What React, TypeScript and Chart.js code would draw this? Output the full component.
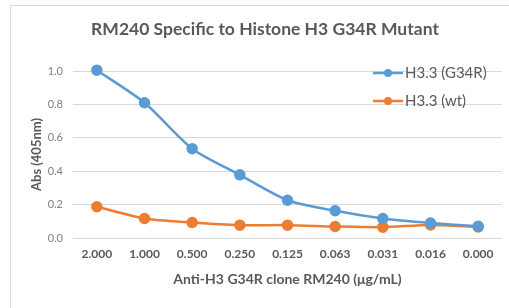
import React, { useEffect, useRef } from "react";
import { Chart, registerables } from "chart.js";

Chart.register(...registerables);

const categories = ["2.000", "1.000", "0.500", "0.250", "0.125", "0.063", "0.031", "0.016", "0.000"];
const g34rValues = [1.005, 0.81, 0.535, 0.378, 0.226, 0.163, 0.117, 0.09, 0.07];
const wtValues = [0.187, 0.117, 0.093, 0.077, 0.077, 0.069, 0.065, 0.078, 0.066];
const seriesNames = ["H3.3 (G34R)", "H3.3 (wt)"];
const seriesColors = ["#5B9BD5", "#ED7D31"];
const titleText = "RM240 Specific to Histone H3 G34R Mutant";
const xTitle = "Anti-H3 G34R clone RM240 (\u03bcg/mL)";
const yTitle = "Abs (405nm)";

const FONT = "Lato, 'Open Sans', sans-serif";

const framePlugin = {
  id: "frame",
  beforeDraw(chart: any) {
    const ctx = chart.ctx;
    ctx.save();
    ctx.fillStyle = "#ffffff";
    ctx.fillRect(0, 0, chart.width, chart.height);
    ctx.strokeStyle = "#d9d9d9";
    ctx.lineWidth = 1;
    ctx.strokeRect(10.5, 5.5, 700, 500);
    ctx.restore();
  },
};

const legendPlugin = {
  id: "insideLegend",
  afterDraw(chart: any) {
    const ctx = chart.ctx;
    ctx.save();
    const ys = [73, 101];
    chart.data.datasets.forEach((ds: any, i: number) => {
      const y = ys[i];
      ctx.strokeStyle = ds.borderColor;
      ctx.lineWidth = 2.5;
      ctx.beginPath();
      ctx.moveTo(373, y);
      ctx.lineTo(403, y);
      ctx.stroke();
      ctx.fillStyle = ds.backgroundColor;
      ctx.beginPath();
      ctx.arc(388, y, 4, 0, Math.PI * 2);
      ctx.fill();
      ctx.fillStyle = "#595959";
      ctx.font = `15px ${FONT}`;
      ctx.textBaseline = "middle";
      ctx.textAlign = "left";
      ctx.fillText(ds.label, 405, y);
    });
    ctx.restore();
  },
};

export default function App() {
  const ref = useRef<HTMLCanvasElement>(null);
  useEffect(() => {
    document.body.style.margin = "0";
    const chart = new Chart(ref.current!, {
      type: "line",
      data: {
        labels: categories,
        datasets: [
          {
            label: seriesNames[0],
            data: g34rValues,
            borderColor: seriesColors[0],
            backgroundColor: seriesColors[0],
            borderWidth: 2.5,
            pointRadius: 4.5,
            pointHoverRadius: 4.5,
            tension: 0.25,
            clip: false as any,
          },
          {
            label: seriesNames[1],
            data: wtValues,
            borderColor: seriesColors[1],
            backgroundColor: seriesColors[1],
            borderWidth: 2.5,
            pointRadius: 4.5,
            pointHoverRadius: 4.5,
            tension: 0.25,
            clip: false as any,
          },
        ],
      },
      options: {
        animation: false,
        responsive: false,
        layout: { padding: { left: 28, right: 7, top: 0, bottom: 0 } },
        plugins: {
          legend: { display: false },
          tooltip: { enabled: false },
          title: {
            display: true,
            text: titleText,
            color: "#595959",
            font: { family: FONT, size: 17.5, weight: "bold" },
            padding: { top: 19, bottom: 31 },
          },
        },
        scales: {
          x: {
            type: "category",
            offset: true,
            grid: { display: false },
            border: { display: false },
            ticks: {
              color: "#595959",
              font: { family: FONT, size: 12, weight: "bold" },
              padding: 1,
              maxRotation: 0,
              autoSkip: false,
            },
            title: {
              display: true,
              text: xTitle,
              color: "#595959",
              font: { family: FONT, size: 14, weight: "bold" },
              padding: { top: 4, bottom: 20 },
            },
            afterFit(scale: any) {
              scale.height = 70;
            },
          },
          y: {
            min: 0,
            max: 1.0,
            grid: { color: "#d9d9d9", drawTicks: false },
            border: { display: false },
            ticks: {
              stepSize: 0.2,
              color: "#7f7f7f",
              font: { family: FONT, size: 11 },
              padding: 10,
              callback: (v: any) => Number(v).toFixed(1),
            },
            title: {
              display: true,
              text: yTitle,
              color: "#595959",
              font: { family: FONT, size: 13, weight: "bold" },
              padding: { top: 1, bottom: 0 },
            },
            afterFit(scale: any) {
              scale.width = 45;
            },
          },
        },
      },
      plugins: [framePlugin, legendPlugin],
    });
    return () => chart.destroy();
  }, []);
  return <canvas ref={ref} width={509} height={308} style={{ display: "block" }} />;
}
